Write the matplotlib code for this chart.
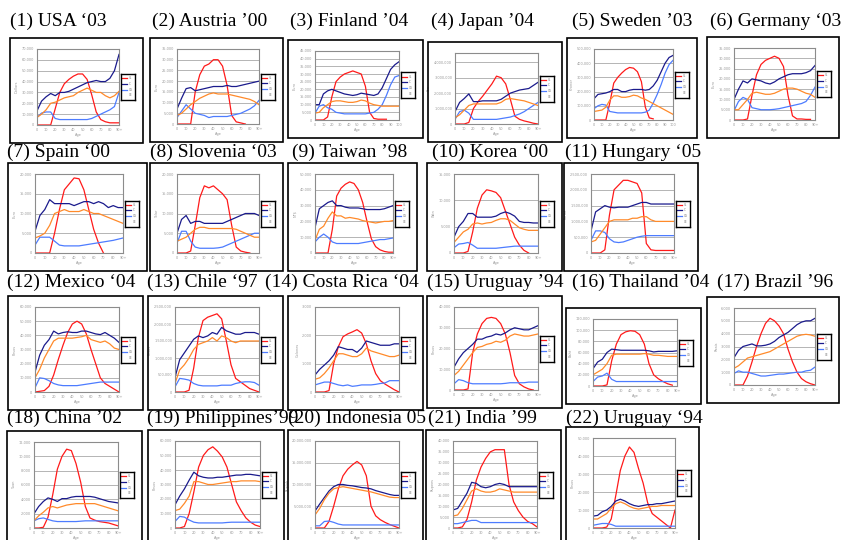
import numpy as np
import matplotlib
matplotlib.use("Agg")
import matplotlib.pyplot as plt
from matplotlib.patches import Rectangle

TITLES = ["(1) USA \u201803", "(2) Austria \u201900", "(3) Finland \u201904", "(4) Japan \u201904",
          "(5) Sweden \u201903", "(6) Germany \u201803", "(7) Spain \u201800", "(8) Slovenia \u201803",
          "(9) Taiwan \u201998", "(10) Korea \u201800", "(11) Hungary \u201805", "(12) Mexico \u201804",
          "(13) Chile \u201897", "(14) Costa Rica \u201804", "(15) Uruguay \u201994", "(16) Thailand \u201904",
          "(17) Brazil \u201996", "(18) China \u201902", "(19) Philippines\u201999", "(20) Indonesia 05",
          "(21) India \u201999", "(22) Uruguay \u201894"]

# axis max / grid step in the units of the series below, and multiplier for tick labels
Y_MAX = [70, 35, 45, 4.6, 500, 35, 20, 20, 50, 15, 2500, 60, 2500, 3000, 40, 120, 6000,
         12000, 60, 20, 40, 50]
Y_STEP = [10, 5, 5, 1, 100, 5, 5, 5, 10, 5, 500, 10, 500, 1000, 10, 20, 1000,
          2000, 10, 5, 5, 10]
Y_SCALE = [1000, 1000, 1000, 1e6, 1000, 1000, 1000, 1000, 1000, 1000, 1000, 1000, 1000, 1, 1000, 1000, 1,
           1, 1000, 1e6, 1000, 1000]
Y_NAME = ["Dollars", "Euro", "Euro", "Yen", "Kronor", "Euro", "Euro", "Tolar", "NT$", "Won", "Forint",
          "Pesos", "Pesos", "Colones", "Pesos", "Baht", "Reais", "Yuan", "Pesos", "Rupiah", "Rupees", "Pesos"]

# values at ages 0, 5, 10, ... (last point = 90+ or 100)
YL = [
    [0, 0, 0, 0, 15, 30, 38, 42, 45, 47, 47, 42, 28, 12, 5, 3, 2, 2, 2],
    [0, 0, 0, 0, 15, 23, 27, 28, 30, 30, 27, 18, 4, 1, 0.5, 0, None, None, None],
    [0, 0, 0, 2, 15, 25, 28, 30, 31, 32, 31, 30, 22, 5, 1, 0.5, 0.5, 0.5, None, None, None],
    [0, 0, 0, 0.1, 1.0, 1.45, 1.8, 2.2, 2.6, 3.1, 3.0, 2.6, 1.6, 0.5, 0.3, 0.2, 0.13, 0.05, 0],
    [0, 0, 0, 0, 120, 260, 300, 330, 355, 370, 365, 340, 270, 90, 15, 8, None, None, None, None, None],
    [0, 0, 0, 0.5, 12, 22, 27, 29, 30, 31, 30, 26, 12, 2, 0.5, 0.5, 0.3, 0.3, None],
    [0, 0, 0, 0, 5, 11, 16, 17.5, 19, 18.8, 16, 11, 6, 2.5, 0, None, None, None, None],
    [0, 0, 0, 0.5, 7, 14, 17, 16.5, 17, 16, 15, 13.5, 7, 1.5, 0.5, 0.2, 0, None, None],
    [0, 0, 0, 0, 15, 36, 41, 43.5, 45, 44, 40, 32, 20, 9, 4, 2, 1, 0.5, 0.5],
    [0, 0, 0, 0.3, 4, 8.5, 11, 12, 11.8, 11.5, 10.5, 8, 5.5, 3, 1.5, 0.5, 0, None, None],
    [0, 0, 0, 100, 1200, 2000, 2150, 2300, 2300, 2250, 2200, 1900, 300, 100, 80, 80, 80, 80, 80],
    [0, 0.5, 1, 4, 12, 23, 33, 42, 48, 50, 48, 41, 30, 20, 10, 6, 4, 2, 0],
    [0, 0, 0, 50, 700, 1600, 2100, 2200, 2250, 2300, 2150, 1500, 800, 400, 300, 200, 100, 50, 0],
    [0, 0, 0, 50, 1000, 1600, 1950, 2050, 2120, 2200, 2080, 1700, 1100, 650, 400, 280, 180, 80, 0],
    [0, 0, 0, 0.5, 18, 27, 32, 34.5, 35, 34.5, 32, 27, 18, 7, 3, 1.5, 0.5, 0, None],
    [0, 0, 0, 2, 45, 75, 92, 97, 99, 98, 92, 75, 40, 20, 13, 8, 4, 1.5, None],
    [0, 0, 0, 700, 1800, 3000, 4000, 4800, 5200, 5000, 4600, 4000, 2800, 1800, 1000, 500, 250, 100, 0],
    [0, 0, 100, 1500, 4600, 8200, 10000, 11000, 10800, 9000, 6400, 3000, 1400, 1100, 900, 800, 700, 500, 300],
    [0, 0, 1, 10, 25, 42, 50, 54, 56, 53, 49, 42, 30, 18, 12, 7, 4, 2, 1],
    [0, 0, 0, 1.5, 5, 9, 12, 13.5, 14.5, 15.3, 14.5, 12, 5, 2.8, 1.9, 1.3, 0.8, 0.4, 0],
    [0, 0, 0.5, 4, 12, 22, 28, 32, 35, 36, 36, 36, 20, 12, 8, 5, 3, 2, 0.5],
    [0, 0, 0, 0.5, 5, 18, 32, 40, 45, 42, 33, 25, 14, 8, 6, 4, 2, 0, 10],
]
C = [
    [13, 22, 26, 29, 27, 30, 30, 31, 33, 35, 37, 39, 40, 41, 40, 40, 43, 50, 65],
    [7, 12, 16.5, 17, 15.5, 16, 16.5, 17, 17.5, 17.5, 17.5, 18, 17.5, 17.5, 18, 18.5, 19, 19.5, 20],
    [10, 10, 17, 19, 20, 19, 18, 17, 16.5, 16, 16.5, 17.5, 17, 16.5, 16, 17, 21, 27, 33, 36, 38],
    [0.8, 1.4, 1.65, 1.95, 1.45, 1.45, 1.5, 1.5, 1.5, 1.5, 1.6, 1.8, 2.0, 2.1, 2.2, 2.25, 2.3, 2.5, 2.7],
    [150, 180, 185, 190, 200, 215, 215, 200, 200, 210, 215, 215, 215, 210, 215, 240, 280, 340, 400, 440, 455],
    [10, 15, 19, 18, 20, 19.5, 19, 18, 17.5, 18.5, 20, 21, 22, 22.5, 22.5, 22.5, 23, 24, 26.5],
    [5.5, 9.5, 11, 13.5, 12.5, 12.5, 12.5, 12.5, 12, 12.5, 13, 13, 12.5, 13, 12.5, 11.5, 12, 11.5, 11.5],
    [5, 8.5, 9.5, 7.5, 8, 8, 7.5, 7.5, 7.5, 7.5, 7.5, 8, 8.5, 9, 9.5, 10, 10, 10, 9.5],
    [16, 28, 30, 32, 33, 30, 30, 29, 28.5, 28.5, 28.5, 28, 27.5, 27.5, 27.5, 27.5, 28, 29, 30],
    [3, 5, 6, 7.5, 7.5, 6.8, 6.8, 6.8, 6.8, 7, 7.5, 7.8, 7.5, 7, 6, 5.8, 5.8, 5.7, 5.7],
    [700, 1300, 1400, 1500, 1450, 1430, 1450, 1450, 1450, 1500, 1550, 1600, 1600, 1550, 1550, 1550, 1550, 1550, 1550],
    [14, 26, 33, 37, 43, 41, 42, 42.5, 42, 42, 43, 43, 42, 41, 40.5, 42, 40, 38, 35],
    [425, 950, 1150, 1350, 1550, 1650, 1600, 1650, 1750, 1700, 1900, 1800, 1750, 1700, 1700, 1750, 1750, 1750, 1700],
    [600, 800, 950, 1100, 1300, 1600, 1550, 1500, 1500, 1400, 1550, 1800, 1750, 1700, 1650, 1650, 1650, 1700, 1700],
    [11, 15, 18, 20, 22, 24.5, 24.5, 25.5, 26, 27, 26.5, 27.5, 29, 30, 29.5, 29, 29, 30, 31],
    [31, 43, 48, 60, 66, 65, 64, 64, 64, 64, 64, 64, 63, 61, 62, 62, 62, 62, 63],
    [2130, 2700, 3000, 3100, 3200, 3050, 3050, 3100, 3200, 3400, 3700, 3900, 4100, 4400, 4700, 4900, 5000, 5000, 5200],
    [2000, 3000, 3700, 4200, 4000, 3700, 4100, 4100, 4300, 4400, 4400, 4400, 4400, 4300, 4100, 3900, 3700, 3600, 3500],
    [16, 22, 27, 33, 38.5, 36, 35, 34.5, 34.5, 35, 35, 35.5, 36, 36.5, 36.5, 37, 37, 36.5, 36],
    [3.9, 5.5, 7, 8.5, 9.5, 10, 10, 9.8, 9.7, 9.5, 9.3, 9.2, 9, 8.6, 8.3, 8, 7.7, 7.5, 7.5],
    [8.3, 9, 12.5, 16, 21, 20.5, 19, 18.5, 19, 20, 20.5, 20, 19, 19, 19, 19, 19, 19, 19],
    [6.6, 7, 9, 10, 12, 15, 16, 15, 13.5, 12.5, 12, 12.5, 13, 13, 13.5, 13.5, 14, 14.5, 15],
]
CG = [
    [7, 11, 12, 12, 6, 5, 5, 5, 5, 5, 5, 5, 6, 8, 10, 12, 14, 17, 30],
    [3, 6, 9, 7, 5, 4.5, 4, 3, 3.5, 3.5, 3.5, 3.5, 4, 4.5, 5, 6, 7, 8.5, 11],
    [4.5, 9, 10, 8, 7, 5, 4.5, 4, 4, 4, 4, 4, 4, 4.5, 5, 7, 10, 16, 23, 28, 29],
    [0.3, 0.8, 0.9, 0.7, 0.3, 0.3, 0.3, 0.3, 0.3, 0.3, 0.35, 0.4, 0.45, 0.55, 0.65, 0.8, 1.0, 1.2, 1.4],
    [80, 100, 110, 105, 60, 55, 50, 50, 50, 50, 50, 50, 50, 55, 70, 120, 180, 250, 330, 390, 420],
    [4.5, 9, 11, 10, 6, 5.5, 5, 5, 5, 5.2, 5.5, 6, 6.5, 7, 7.5, 8, 9, 12, 16],
    [2, 4, 4, 4, 3, 2, 1.8, 1.8, 1.8, 1.8, 2, 2.2, 2.4, 2.6, 2.8, 3, 3.2, 3.5, 3.8],
    [2.5, 5.5, 5.5, 3, 1.5, 1.2, 1.2, 1.2, 1.2, 1.3, 1.5, 2, 2.5, 3, 3.5, 4, 4.5, 5, 5],
    [7, 10, 12, 10, 7, 6, 6, 6, 6, 6, 6, 6.5, 7, 7.5, 8, 8.5, 8.5, 9, 9.5],
    [1, 1.7, 1.8, 2, 1.5, 0.9, 0.9, 0.9, 0.9, 0.9, 1, 1.1, 1.2, 1.3, 1.3, 1.3, 1.3, 1.3, 1.3],
    [400, 700, 700, 650, 450, 350, 330, 350, 400, 450, 500, 530, 550, 550, 550, 550, 550, 550, 550],
    [3, 10, 9.5, 8, 6, 5, 4.5, 4.5, 4.5, 4.5, 5, 5.5, 6, 6.5, 7, 7, 7, 7, 7],
    [150, 400, 380, 350, 250, 200, 180, 180, 180, 180, 200, 200, 200, 250, 280, 300, 300, 280, 200],
    [250, 300, 350, 350, 300, 250, 220, 250, 200, 220, 250, 250, 250, 270, 300, 320, 400, 400, 400],
    [3, 5, 4.5, 3.5, 3, 3, 3, 3, 3, 3, 3, 3.2, 3.5, 3.5, 3.5, 3.5, 3.8, 3.8, 3.8],
    [8, 16, 18, 23, 12, 8, 8, 8, 8, 8, 8, 8, 8, 8, 8, 8, 8, 8, 8],
    [900, 1100, 1000, 1000, 900, 800, 700, 700, 750, 800, 850, 850, 900, 950, 1000, 1000, 1100, 1150, 1400],
    [1000, 1300, 1400, 1200, 1000, 900, 900, 900, 900, 900, 950, 1000, 1000, 1000, 1000, 1000, 1000, 1000, 1000],
    [4.5, 8, 7.5, 5.5, 4, 3.5, 3.5, 3.5, 3.5, 3.5, 3.5, 3.8, 4, 4, 4, 4, 4, 4, 4],
    [0.5, 0.5, 1.5, 1.6, 1.3, 0.9, 0.7, 0.7, 0.7, 0.7, 0.7, 0.7, 0.7, 0.7, 0.7, 0.7, 0.7, 0.7, 0.7],
    [2, 2, 2.5, 3, 3.5, 3.5, 2.5, 2.5, 2.5, 2.5, 2.5, 2.5, 2.5, 2.5, 2.5, 2.5, 2.5, 2.5, 2.5],
    [1.5, 2, 2.5, 2.5, 2, 1, 1, 1, 1, 1, 1, 1, 1, 1, 1, 1, 1, 1, 1],
]
CE = [
    [7, 10, 14, 20, 21, 23, 25, 26, 27, 30, 32, 34, 32, 30, 30, 27, 25, 27, 31],
    [4, 5, 7, 9, 10.5, 12, 13, 14, 14.5, 14, 14, 14, 13.5, 13, 12.5, 12, 11.5, 10.5, 9],
    [4.5, 5, 8, 10, 12, 12.5, 12.5, 12, 11.5, 11.5, 12, 13, 12.5, 11, 10, 9.5, 9, 9, 9, 9, 9],
    [0.4, 0.6, 0.9, 1.2, 1.3, 1.3, 1.3, 1.3, 1.3, 1.3, 1.4, 1.6, 1.65, 1.6, 1.55, 1.5, 1.4, 1.3, 1.2],
    [60, 65, 70, 90, 140, 170, 170, 160, 160, 165, 175, 170, 155, 145, 130, 115, 100, 85, 70, 55, 40],
    [5, 5, 7.5, 10, 13, 13.5, 13, 12.5, 12.5, 13, 14, 15, 15.5, 15.5, 15, 14, 13, 12.5, 11],
    [3.8, 4.3, 5, 7, 10, 10.5, 11, 10.5, 10.5, 10.5, 11, 10.5, 10, 10, 9.5, 9, 8.5, 8, 7.5],
    [3, 3.5, 4, 5, 6, 6.5, 6.5, 6.2, 6.2, 6.2, 6.2, 6.2, 6.2, 6, 5.5, 5, 4.5, 4, 4],
    [8, 15, 17, 22, 26, 23.5, 23.5, 22, 22.5, 22, 21.5, 20.5, 20, 19.5, 19, 19.5, 20, 20, 20.5],
    [2, 3, 4, 4.5, 5.5, 5.7, 5.5, 5.7, 5.8, 6.2, 6.5, 6.5, 6.2, 5.5, 4.8, 4.5, 4.3, 4.3, 4.3],
    [350, 400, 600, 800, 1000, 1050, 1050, 1050, 1050, 1100, 1100, 1150, 1150, 1050, 1000, 1000, 1000, 1000, 1000],
    [10, 16, 24, 30, 36, 38, 38, 38, 38, 38.5, 39, 40, 37, 36, 35, 36, 34, 31, 30],
    [250, 650, 800, 1000, 1250, 1400, 1450, 1500, 1600, 1500, 1650, 1600, 1500, 1450, 1500, 1500, 1500, 1500, 1500],
    [450, 500, 650, 850, 1100, 1350, 1350, 1300, 1250, 1250, 1350, 1550, 1450, 1400, 1350, 1300, 1250, 1250, 1300],
    [7, 9, 12, 15, 18, 20.5, 21, 22, 22.5, 23.5, 23, 24, 26, 27, 26.5, 26, 26, 26.5, 27],
    [20, 25, 30, 40, 55, 57, 57, 57, 57, 57, 57, 58, 57, 55, 55, 54, 53, 53, 53],
    [1300, 1500, 1800, 2100, 2200, 2300, 2400, 2500, 2600, 2800, 3000, 3200, 3400, 3600, 3800, 3900, 3950, 3900, 3800],
    [1000, 1700, 2200, 2800, 3000, 2800, 3000, 3200, 3300, 3400, 3400, 3400, 3400, 3400, 3200, 3000, 2800, 2600, 2400],
    [12, 13, 17, 22, 32, 32, 31, 30, 30, 30.5, 31, 31.5, 32, 32, 32.5, 32.5, 32.5, 32.5, 32],
    [3, 4.5, 6.5, 8, 9, 9.3, 9.5, 9.3, 9.1, 8.9, 8.7, 8.5, 8.3, 8, 7.7, 7.4, 7.1, 7, 7],
    [5.5, 6, 9, 13, 17, 18, 17, 16.5, 16.5, 17, 18, 17.5, 17, 16.5, 16.5, 16.5, 16.5, 16.5, 16.5],
    [5, 5, 6.5, 8, 11, 13.5, 14.5, 13.5, 12, 11, 10.5, 11, 11.5, 12, 12, 12.5, 12.5, 12.5, 12.5],
]
SERIES_NAMES = ["YL", "C", "CG", "CE"]
COLORS = ["#ff1a1a", "#1a1a8c", "#4d7cff", "#ff8a2a"]

# layout in pixels (x0, y0, x1, y1), origin top-left; bottom row runs off the page
BOXES = [(10, 38, 143, 143), (150, 38, 283, 142), (288, 40, 423, 138), (428, 42, 562, 142),
         (567, 38, 697, 138), (707, 37, 839, 138),
         (8, 163, 147, 271), (150, 163, 283, 271), (288, 163, 417, 271), (427, 163, 562, 271),
         (564, 163, 698, 271),
         (8, 296, 143, 410), (148, 296, 283, 410), (288, 296, 423, 410), (427, 296, 562, 408),
         (566, 308, 701, 404), (707, 297, 839, 403),
         (7, 431, 142, 547), (148, 430, 284, 547), (288, 430, 423, 547), (426, 430, 561, 547),
         (566, 427, 699, 547)]
TITLE_POS = [(10, 26), (152, 26), (290, 26), (431, 26), (572, 26), (710, 26),
             (7, 157), (150, 157), (292, 157), (432, 157), (565, 157),
             (7, 287), (147, 287), (265, 287), (427, 287), (572, 287), (717, 287),
             (7, 423), (147, 423), (288, 423), (428, 423), (566, 423)]

W, H = 845, 540
fig = plt.figure(figsize=(W / 100, H / 100), dpi=100)


def frac(x0, y0, x1, y1):
    return [x0 / W, 1 - y1 / H, (x1 - x0) / W, (y1 - y0) / H]


for i in range(len(TITLES)):
    x0, y0, x1, y1 = BOXES[i]
    fig.patches.append(Rectangle((x0 / W, 1 - y1 / H), (x1 - x0) / W, (y1 - y0) / H,
                                 transform=fig.transFigure, fill=False, ec="black", lw=1.2))
    tx, ty = TITLE_POS[i]
    fig.text(tx / W, 1 - ty / H, TITLES[i], fontsize=14, family="Liberation Serif",
             ha="left", va="baseline")

    px0, px1 = x0 + 27, x1 - 24
    py0, py1 = y0 + 11, min(y1 - 18, 528)
    ax = fig.add_axes(frac(px0, py0, px1, py1))
    npts = len(C[i])
    ages = np.arange(npts) * 5
    xmax = ages[-1]
    for name, data, col in zip(SERIES_NAMES, [YL, C, CG, CE], COLORS):
        ax.plot(ages, np.array(data[i], dtype=float), color=col, lw=0.9)
    ax.set_xlim(0, xmax)
    ax.set_ylim(0, Y_MAX[i])
    yt = np.arange(0, Y_MAX[i] + 1e-9, Y_STEP[i])
    ax.set_yticks(yt)
    ax.set_yticklabels([f"{int(round(v * Y_SCALE[i])):,}" for v in yt])
    xt = np.arange(0, xmax + 1, 10)
    ax.set_xticks(xt)
    xl = [str(v) for v in xt]
    if xmax == 90:
        xl[-1] = "90+"
    ax.set_xticklabels(xl)
    ax.tick_params(length=0, labelsize=2.5, labelcolor="#999999", pad=2)
    ax.grid(axis="y", color="#b4b4b4", lw=0.7)
    ax.set_axisbelow(True)
    for s in ax.spines.values():
        s.set_color("#8c8c8c")
        s.set_linewidth(0.8)
    ax.set_xlabel("Age", fontsize=2.5, color="#999999", labelpad=1)
    ax.set_ylabel(Y_NAME[i], fontsize=2.5, color="#999999", labelpad=2)

    # small legend box to the right of the plot
    cy = (py0 + py1) / 2
    lg = fig.add_axes(frac(px1 + 2, cy - 13, px1 + 16, cy + 13))
    lg.set_xlim(0, 1)
    lg.set_ylim(0, 1)
    lg.set_xticks([])
    lg.set_yticks([])
    for s in lg.spines.values():
        s.set_color("black")
        s.set_linewidth(1.0)
    for k, (name, col) in enumerate(zip(SERIES_NAMES, COLORS)):
        yy = 0.84 - k * 0.22
        if k < 3:
            lg.plot([0.1, 0.45], [yy, yy], color=col, lw=0.9)
        lg.text(0.55, yy, name, fontsize=2, color="#777777", va="center")

fig.savefig("out.png", dpi=100)
